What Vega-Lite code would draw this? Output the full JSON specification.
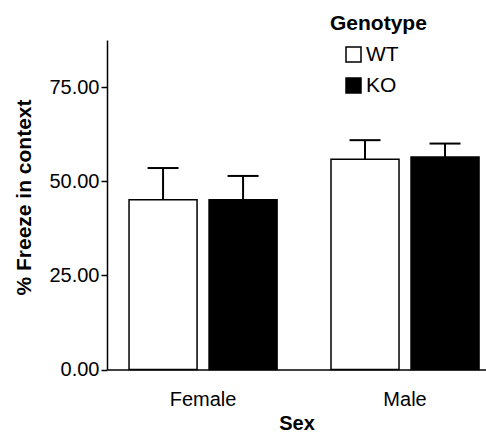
{
  "$schema": "https://vega.github.io/schema/vega-lite/v6.json",
  "autosize": "none",
  "width": 379,
  "height": 329.5,
  "padding": {"left": 107, "top": 40, "right": 0, "bottom": 64.5},
  "config": {
    "view": {"stroke": null},
    "font": "Liberation Sans",
    "axis": {"labelColor": "black", "titleColor": "black", "domainColor": "black", "tickColor": "black", "domainWidth": 1.5, "tickWidth": 1.5, "grid": false, "labelFont": "Liberation Sans", "titleFont": "Liberation Sans"},
    "legend": {"labelFont": "Liberation Sans", "titleFont": "Liberation Sans"}
  },
  "data": {
    "values": [
      {"sex": "Female", "genotype": "WT", "mean": 45.1, "upper": 53.5},
      {"sex": "Female", "genotype": "KO", "mean": 45.1, "upper": 51.4},
      {"sex": "Male", "genotype": "WT", "mean": 55.8, "upper": 60.9},
      {"sex": "Male", "genotype": "KO", "mean": 56.4, "upper": 60.0}
    ]
  },
  "encoding": {
    "x": {
      "field": "sex", "type": "nominal",
      "scale": {"paddingInner": 0.267, "paddingOuter": 0.0718, "align": 0.76},
      "axis": {"title": "Sex", "labelAngle": 0, "ticks": false, "labelPadding": 20, "labelFontSize": 20, "titleFontSize": 20, "titleFontWeight": "bold", "titlePadding": 4}
    },
    "xOffset": {"field": "genotype", "type": "nominal", "sort": ["WT", "KO"], "scale": {"paddingInner": 0.15, "paddingOuter": 0}}
  },
  "layer": [
    {
      "mark": {"type": "bar", "stroke": "black", "strokeWidth": 1.5, "opacity": 1},
      "encoding": {
        "y": {
          "field": "mean", "type": "quantitative",
          "scale": {"domain": [0, 87.5], "nice": false},
          "axis": {"values": [0, 25, 50, 75], "format": ".2f", "tickSize": 6, "labelPadding": 2, "labelFontSize": 20, "title": "% Freeze in context", "titleFontSize": 21, "titleFontWeight": "bold", "titlePadding": 14, "titleY": 157}
        },
        "color": {
          "field": "genotype", "type": "nominal", "sort": ["WT", "KO"],
          "scale": {"domain": ["WT", "KO"], "range": ["white", "black"]},
          "legend": {
            "title": "Genotype", "orient": "none", "legendX": 223, "legendY": -27,
            "padding": 0, "symbolType": "square", "symbolSize": 225, "symbolStrokeColor": "black", "symbolStrokeWidth": 1.5,
            "symbolOffset": 13, "labelFontSize": 21, "labelColor": "black", "labelOffset": 2,
            "titleFontSize": 21, "titleFontWeight": "bold", "titleColor": "black", "titlePadding": 10, "rowPadding": 9
          }
        }
      }
    },
    {
      "mark": {"type": "rule", "color": "black", "strokeWidth": 2},
      "encoding": {
        "y": {"field": "mean", "type": "quantitative"},
        "y2": {"field": "upper"}
      }
    },
    {
      "mark": {"type": "tick", "color": "black", "thickness": 2, "size": 31, "orient": "horizontal", "opacity": 1},
      "encoding": {
        "y": {"field": "upper", "type": "quantitative"}
      }
    }
  ]
}
